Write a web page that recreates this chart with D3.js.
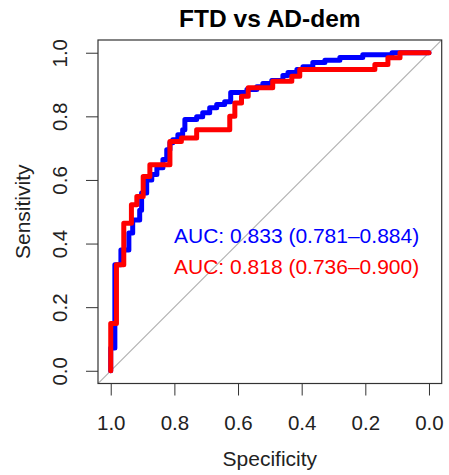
<!DOCTYPE html>
<html>
<head>
<meta charset="utf-8">
<script src="https://cdn.jsdelivr.net/npm/d3@7"></script>
<style>
  body { margin: 0; background: #fff; }
  svg text { font-family: "Liberation Sans", Arial, sans-serif; }
</style>
</head>
<body>
<div id="chart"></div>
<script>
var width = 449, height = 475;

// ROC curves (specificity, sensitivity corner points)
var blueSpec = [1.000, 1.000, 0.987, 0.987, 0.968, 0.968, 0.943, 0.943, 0.931, 0.931, 0.909, 0.909,
  0.903, 0.903, 0.887, 0.887, 0.871, 0.871, 0.855, 0.855, 0.836, 0.836, 0.824, 0.824, 0.814, 0.814,
  0.805, 0.805, 0.789, 0.789, 0.774, 0.774, 0.767, 0.767, 0.730, 0.730, 0.711, 0.711, 0.689, 0.689,
  0.667, 0.667, 0.642, 0.642, 0.623, 0.623, 0.572, 0.572, 0.541, 0.541, 0.522, 0.522, 0.494, 0.494,
  0.459, 0.459, 0.443, 0.443, 0.415, 0.415, 0.396, 0.396, 0.365, 0.365, 0.327, 0.327, 0.280, 0.280,
  0.208, 0.208, 0.116, 0.116, 0.000];
var blueSens = [0.000, 0.072, 0.072, 0.333, 0.333, 0.380, 0.380, 0.433, 0.433, 0.474, 0.474, 0.505,
  0.505, 0.559, 0.559, 0.600, 0.600, 0.617, 0.617, 0.638, 0.638, 0.664, 0.664, 0.695, 0.695, 0.717,
  0.717, 0.726, 0.726, 0.742, 0.742, 0.758, 0.758, 0.790, 0.790, 0.799, 0.799, 0.811, 0.811, 0.827,
  0.827, 0.837, 0.837, 0.846, 0.846, 0.875, 0.875, 0.884, 0.884, 0.893, 0.893, 0.903, 0.903, 0.913,
  0.913, 0.928, 0.928, 0.938, 0.938, 0.947, 0.947, 0.956, 0.956, 0.969, 0.969, 0.976, 0.976, 0.985,
  0.985, 0.994, 0.994, 1.000, 1.000];

var redSpec = [1.000, 1.000, 0.982, 0.982, 0.959, 0.959, 0.935, 0.935, 0.918, 0.918, 0.898, 0.898,
  0.877, 0.877, 0.814, 0.814, 0.778, 0.778, 0.730, 0.730, 0.626, 0.626, 0.610, 0.610, 0.589, 0.589,
  0.568, 0.568, 0.491, 0.491, 0.431, 0.431, 0.406, 0.406, 0.170, 0.170, 0.129, 0.129, 0.091, 0.091, 0.000];
var redSens = [0.000, 0.149, 0.149, 0.333, 0.333, 0.464, 0.464, 0.522, 0.522, 0.548, 0.548, 0.611,
  0.611, 0.648, 0.648, 0.721, 0.721, 0.732, 0.732, 0.758, 0.758, 0.800, 0.800, 0.842, 0.842, 0.863,
  0.863, 0.890, 0.890, 0.910, 0.910, 0.926, 0.926, 0.947, 0.947, 0.963, 0.963, 0.984, 0.984, 1.000, 1.000];

var ticks = [1.0, 0.8, 0.6, 0.4, 0.2, 0.0];
var aucLabels = ["AUC: 0.833 (0.781\u20130.884)", "AUC: 0.818 (0.736\u20130.900)"];
var colors = ["#0000ff", "#ff0000"];

var box = {left: 98, right: 441.7, top: 40, bottom: 383.5};

var svg = d3.select("#chart").append("svg")
  .attr("width", width)
  .attr("height", height);

var x = d3.scaleLinear().domain([1.04, -0.04]).range([box.left, box.right]);
var y = d3.scaleLinear().domain([-0.04, 1.04]).range([box.bottom, box.top]);

svg.append("clipPath").attr("id", "plotclip")
  .append("rect")
  .attr("x", box.left).attr("y", box.top)
  .attr("width", box.right - box.left).attr("height", box.bottom - box.top);

// title
svg.append("text")
  .text("FTD vs AD-dem")
  .attr("x", (box.left + box.right) / 2)
  .attr("y", 27)
  .attr("text-anchor", "middle")
  .attr("font-weight", "bold")
  .attr("font-size", 24.5);

// axes
var xAxis = svg.append("g")
  .attr("transform", "translate(0," + box.bottom + ")")
  .call(d3.axisBottom(x).tickValues(ticks).tickFormat(d3.format(".1f")).tickSize(12).tickSizeOuter(0));
xAxis.select(".domain").remove();
xAxis.selectAll("line").attr("stroke", "#333");
xAxis.selectAll("text")
  .attr("y", 46.5).attr("dy", 0)
  .attr("font-size", 20.5).attr("fill", "#222")
  .attr("font-family", "Liberation Sans, Arial, sans-serif");

var yAxis = svg.append("g")
  .attr("transform", "translate(" + box.left + ",0)")
  .call(d3.axisLeft(y).tickValues(ticks).tickFormat(d3.format(".1f")).tickSize(12).tickSizeOuter(0));
yAxis.select(".domain").remove();
yAxis.selectAll("line").attr("stroke", "#333");
yAxis.selectAll("text")
  .attr("x", 0).attr("y", -31).attr("dy", 0)
  .attr("transform", "rotate(-90)")
  .attr("text-anchor", "middle")
  .attr("font-size", 20.5).attr("fill", "#222")
  .attr("font-family", "Liberation Sans, Arial, sans-serif");

// axis titles
svg.append("text")
  .text("Specificity")
  .attr("x", (box.left + box.right) / 2)
  .attr("y", 466)
  .attr("text-anchor", "middle")
  .attr("font-size", 21)
  .attr("fill", "#222");

svg.append("text")
  .text("Sensitivity")
  .attr("transform", "translate(30," + ((box.top + box.bottom) / 2) + ") rotate(-90)")
  .attr("text-anchor", "middle")
  .attr("font-size", 21)
  .attr("fill", "#222");

// chance line
var plot = svg.append("g").attr("clip-path", "url(#plotclip)");
plot.append("line")
  .attr("x1", x(1.1)).attr("y1", y(-0.1))
  .attr("x2", x(-0.1)).attr("y2", y(1.1))
  .attr("stroke", "#b3b3b3")
  .attr("stroke-width", 1.2);

var line = d3.line()
  .x(function(d) { return x(d[0]); })
  .y(function(d) { return y(d[1]); });

var blueCurve = d3.zip(blueSpec, blueSens);
var redCurve = d3.zip(redSpec, redSens);

plot.append("path")
  .datum(blueCurve)
  .attr("d", line)
  .attr("fill", "none")
  .attr("stroke", colors[0])
  .attr("stroke-width", 5)
  .attr("stroke-linejoin", "round")
  .attr("stroke-linecap", "round");

plot.append("path")
  .datum(redCurve)
  .attr("d", line)
  .attr("fill", "none")
  .attr("stroke", colors[1])
  .attr("stroke-width", 5)
  .attr("stroke-linejoin", "round")
  .attr("stroke-linecap", "round");

// box
svg.append("rect")
  .attr("x", box.left).attr("y", box.top)
  .attr("width", box.right - box.left).attr("height", box.bottom - box.top)
  .attr("fill", "none")
  .attr("stroke", "#333")
  .attr("stroke-width", 1.2);

// AUC labels
svg.selectAll(".auc")
  .data(aucLabels)
  .enter().append("text")
  .attr("class", "auc")
  .text(function(d) { return d; })
  .attr("x", 174)
  .attr("y", function(d, i) { return 243 + i * 31; })
  .attr("font-size", 21)
  .attr("fill", function(d, i) { return colors[i]; });
</script>
</body>
</html>
